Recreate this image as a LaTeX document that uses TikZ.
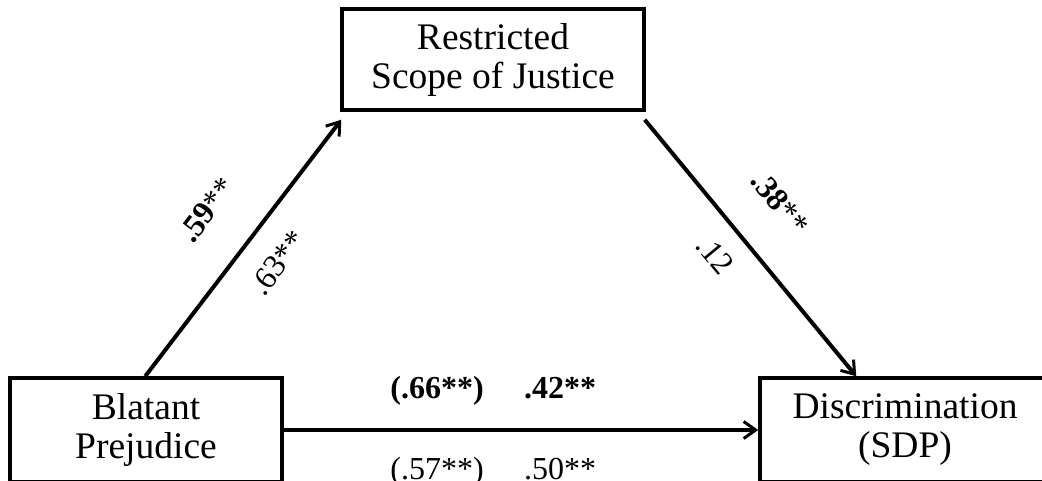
\documentclass[tikz,border=0pt]{standalone}
\usepackage{fontspec}
\setmainfont{Liberation Serif}
\usetikzlibrary{arrows.meta,calc}
\begin{document}
\begin{tikzpicture}[x=1pt,y=-1pt,
  box/.style={draw,line width=3.5pt,align=center,inner sep=0pt,
    font=\fontsize{37.5}{39}\selectfont},
  conn/.style={line width=4pt,-{Straight Barb[length=12pt,width=17pt,line width=3pt]}},
  lab/.style={font=\fontsize{32}{36}\selectfont,inner sep=0pt}]
\useasboundingbox (0,0) rectangle (1042,481);
\clip (0,0) rectangle (1042,481);
\node[box,minimum width=302pt,minimum height=101pt] (scope) at (493,59.5) {Restricted\\Scope of Justice};
\node[box,minimum width=272pt,minimum height=104pt] (blatant) at (146,430) {Blatant\\Prejudice};
\node[box,minimum width=290pt,minimum height=104pt] (disc) at (905,430) {Discrimination\\(SDP)};
\coordinate (a1) at ($(blatant.north west)+(137,0)$);
\coordinate (a2) at ($(scope.south west)+(1,8)$);
\coordinate (b1) at ($(scope.south east)+(-1,8)$);
\coordinate (b2) at ($(disc.north west)+(98,0)$);
\draw[conn] (a1) -- (a2);
\draw[conn] (b1) -- (b2);
\draw[conn] (blatant.east) -- (disc.west);
\node[lab,rotate=52.7] (l59) at (207,210) {\textbf{.59}**};
\node[lab,rotate=52.7] (l63) at (278,263) {.63**};
\node[lab,rotate=-50.3] (l38) at (780,203) {\textbf{.38}**};
\node[lab,rotate=-50.3] (l12) at (715,255) {.12};
\node[lab,anchor=base] (l66) at (437,398) {\textbf{(.66**)}};
\node[lab,anchor=base] (l42) at (560,398) {\textbf{.42**}};
\node[lab,anchor=base] (l57) at (437,479) {(.57**)};
\node[lab,anchor=base] (l50) at (560,479) {.50**};
\end{tikzpicture}
\end{document}
